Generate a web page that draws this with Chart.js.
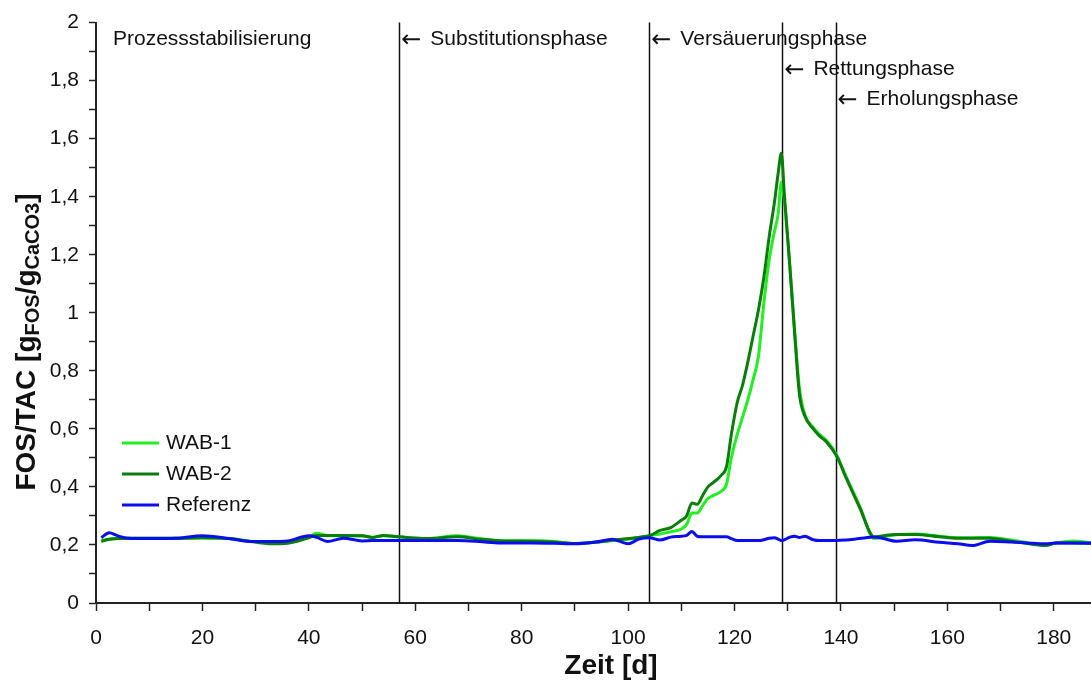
<!DOCTYPE html>
<html>
<head>
<meta charset="utf-8">
<script src="https://cdn.jsdelivr.net/npm/chart.js"></script>
<style>
  html, body { margin: 0; padding: 0; background: #fff; }
  #wrap { width: 1091px; height: 686px; position: relative; }
</style>
</head>
<body>
<div id="wrap"><canvas id="fosChart"></canvas></div>
<script>
// Zeit [d]
const days = [1, 2.5, 4, 6, 10, 15, 20, 25, 29, 33, 36, 40, 41.5, 43.5, 46.5, 50, 52, 54, 57, 62,
  68, 72, 76, 82, 86, 90, 94, 97, 100, 102, 104, 106, 108, 110, 111, 112, 113, 114, 115, 116,
  117.5, 118.5, 119.4, 120.5, 121.5, 122.5, 123.5, 124.5, 125.5, 126.5, 127.5, 128.2, 128.8, 129.4, 130.4, 131.3,
  132.2, 133.2, 134.8, 136, 137.3, 139.2, 141, 143.5, 146.3, 148, 150.4, 154, 158.5, 162,
  164.7, 168, 172, 175, 178.5, 180.4, 183.5, 187];

const wab1 = [0.215, 0.22, 0.222, 0.223, 0.223, 0.223, 0.224, 0.222, 0.213, 0.21, 0.21, 0.228, 0.24, 0.232, 0.232, 0.232, 0.226, 0.232, 0.228, 0.222,
  0.232, 0.222, 0.215, 0.215, 0.212, 0.205, 0.21, 0.215, 0.22, 0.226, 0.232, 0.238, 0.245, 0.255, 0.27, 0.31, 0.31, 0.335, 0.36, 0.37,
  0.385, 0.41, 0.5, 0.58, 0.64, 0.7, 0.77, 0.85, 1.03, 1.18, 1.28, 1.34, 1.45, 1.38, 1.16, 0.94,
  0.74, 0.65, 0.605, 0.58, 0.56, 0.51, 0.435, 0.335, 0.222, 0.228, 0.235, 0.238, 0.23, 0.225,
  0.225, 0.226, 0.217, 0.208, 0.2, 0.207, 0.214, 0.208];

const wab2 = [0.212, 0.22, 0.222, 0.223, 0.223, 0.223, 0.225, 0.222, 0.212, 0.204, 0.206, 0.225, 0.233, 0.233, 0.233, 0.232, 0.226, 0.233, 0.228, 0.222,
  0.228, 0.22, 0.214, 0.212, 0.21, 0.205, 0.21, 0.216, 0.222, 0.226, 0.232, 0.25, 0.26, 0.285, 0.3, 0.345, 0.34, 0.37, 0.4, 0.415,
  0.44, 0.47, 0.58, 0.69, 0.75, 0.83, 0.92, 1.01, 1.12, 1.26, 1.38, 1.48, 1.55, 1.4, 1.16, 0.93,
  0.72, 0.645, 0.6, 0.575, 0.555, 0.506, 0.43, 0.33, 0.227, 0.232, 0.236, 0.236, 0.228, 0.223,
  0.223, 0.223, 0.213, 0.205, 0.198, 0.207, 0.207, 0.205];

const referenz = [0.225, 0.242, 0.232, 0.223, 0.222, 0.223, 0.232, 0.222, 0.212, 0.212, 0.214, 0.232, 0.226, 0.212, 0.223, 0.214, 0.215, 0.215, 0.215, 0.215,
  0.215, 0.212, 0.207, 0.207, 0.206, 0.204, 0.21, 0.22, 0.204, 0.22, 0.225, 0.217, 0.227, 0.23, 0.233, 0.246, 0.23, 0.228, 0.228, 0.228,
  0.228, 0.228, 0.222, 0.215, 0.215, 0.215, 0.215, 0.215, 0.218, 0.223, 0.225, 0.22, 0.215, 0.218, 0.227, 0.23,
  0.226, 0.23, 0.218, 0.215, 0.215, 0.215, 0.217, 0.222, 0.227, 0.222, 0.213, 0.218, 0.209, 0.204,
  0.198, 0.213, 0.21, 0.207, 0.204, 0.207, 0.207, 0.207];

const seriesNames = ['WAB-1', 'WAB-2', 'Referenz'];
const seriesColors = ['#22ee22', '#0a7d0a', '#0c0cf0'];

// Phasen
const firstPhase = 'Prozessstabilisierung';
const phaseStarts = [57, 104, 129, 139];
const phaseNames = ['Substitutionsphase', 'Versäuerungsphase', 'Rettungsphase', 'Erholungsphase'];
const phaseRows = [0, 0, 1, 2];

const FONT = '"Liberation Sans", Arial, sans-serif';

function toPoints(values) {
    return values.map((v, i) => ({ x: days[i], y: v }));
}

// phase lines and labels
const phasePlugin = {
    id: 'phases',
    beforeDatasetsDraw(chart) {
        const { ctx, chartArea, scales } = chart;
        ctx.save();
        ctx.strokeStyle = '#111';
        ctx.lineWidth = 1.5;
        phaseStarts.forEach(d => {
            const x = Math.round(scales.x.getPixelForValue(d)) + 0.5;
            ctx.beginPath();
            ctx.moveTo(x, chartArea.top);
            ctx.lineTo(x, chartArea.bottom);
            ctx.stroke();
        });
        ctx.fillStyle = '#111';
        ctx.textBaseline = 'middle';
        ctx.font = '21px ' + FONT;
        ctx.fillText(firstPhase, chartArea.left + 17, chartArea.top + 17);
        phaseStarts.forEach((d, i) => {
            const x = scales.x.getPixelForValue(d);
            const y = chartArea.top + 17 + phaseRows[i] * 30;
            ctx.font = '24px "DejaVu Sans", sans-serif';
            ctx.fillText('\u2190', x + 2, y + 1);
            ctx.font = '21px ' + FONT;
            ctx.fillText(phaseNames[i], x + 31, y);
        });
        ctx.restore();
    },
    afterDraw(chart) {
        const { ctx, chartArea } = chart;
        ctx.save();
        // legend
        ctx.font = '21px ' + FONT;
        ctx.textBaseline = 'middle';
        seriesNames.forEach((name, i) => {
            const y = 443 + i * 31;
            ctx.strokeStyle = seriesColors[i];
            ctx.lineWidth = 3;
            ctx.beginPath();
            ctx.moveTo(chartArea.left + 26, y);
            ctx.lineTo(chartArea.left + 63, y);
            ctx.stroke();
            ctx.fillStyle = '#111';
            ctx.fillText(name, chartArea.left + 70, y);
        });

        // x title
        ctx.font = 'bold 28px ' + FONT;
        ctx.textAlign = 'center';
        ctx.textBaseline = 'middle';
        ctx.fillText('Zeit [d]', 611, 666);

        // y title with subscripts
        const big = 'bold 28px ' + FONT;
        const small = 'bold 20px ' + FONT;
        const parts = [
            ['FOS/TAC [g', big, 0],
            ['FOS', small, 4],
            ['/g', big, 0],
            ['CaCO3', small, 4],
            [']', big, 0]
        ];
        let total = 0;
        parts.forEach(p => { ctx.font = p[1]; total += ctx.measureText(p[0]).width; });
        ctx.translate(30, 342);
        ctx.rotate(-Math.PI / 2);
        ctx.textAlign = 'left';
        ctx.textBaseline = 'alphabetic';
        let x = -total / 2;
        parts.forEach(p => {
            ctx.font = p[1];
            ctx.fillText(p[0], x, 5 + p[2]);
            x += ctx.measureText(p[0]).width;
        });
        ctx.restore();
    }
};

const ctx = document.getElementById('fosChart').getContext('2d');
const fosChart = new Chart(ctx, {
    type: 'line',
    data: {
        datasets: [wab1, wab2, referenz].map((vals, i) => ({
            label: seriesNames[i],
            data: toPoints(vals),
            borderColor: seriesColors[i],
            backgroundColor: seriesColors[i],
            borderWidth: 3,
            pointRadius: 0,
            cubicInterpolationMode: 'monotone',
            fill: false,
            order: 2 - i
        }))
    },
    options: {
        responsive: true,
        maintainAspectRatio: false,
        animation: false,
        layout: { padding: { top: 18, right: 0, left: 0, bottom: 0 } },
        plugins: {
            legend: { display: false },
            tooltip: { enabled: false }
        },
        scales: {
            x: {
                type: 'linear',
                min: 0,
                max: 187,
                border: { color: '#222', width: 2 },
                grid: { drawOnChartArea: false, tickLength: 8, tickColor: '#222', tickWidth: 1.5 },
                ticks: {
                    stepSize: 10,
                    includeBounds: false,
                    autoSkip: false,
                    maxRotation: 0,
                    padding: 15,
                    color: '#111',
                    font: { family: FONT, size: 21 },
                    callback: v => (v % 20 === 0 ? v : '')
                },
                afterFit(scale) { scale.height = 83; }
            },
            y: {
                min: 0,
                max: 2,
                border: { color: '#222', width: 2 },
                grid: { drawOnChartArea: false, tickLength: 7, tickColor: '#222', tickWidth: 1.5 },
                ticks: {
                    stepSize: 0.1,
                    autoSkip: false,
                    padding: 10,
                    color: '#111',
                    font: { family: FONT, size: 21 },
                    callback: v => {
                        const r = Math.round(v * 10);
                        return r % 2 === 0 ? String(r / 10).replace('.', ',') : '';
                    }
                },
                afterFit(scale) { scale.width = 96; }
            }
        }
    },
    plugins: [phasePlugin]
});
</script>
</body>
</html>
